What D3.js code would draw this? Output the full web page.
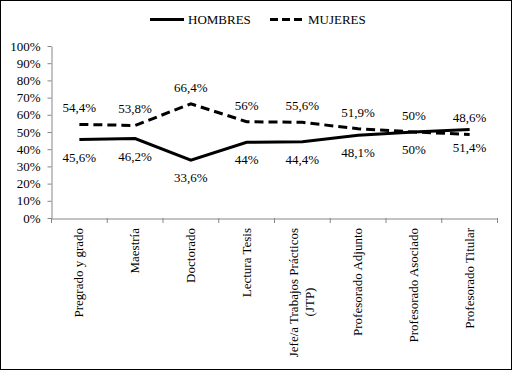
<!DOCTYPE html>
<html><head><meta charset="utf-8">
<script src="https://cdn.jsdelivr.net/npm/d3@7"></script>
<style>body{margin:0;background:#fff}svg{display:block}</style>
</head><body>
<script>
const categories = [["Pregrado y grado"],["Maestría"],["Doctorado"],["Lectura Tesis"],["Jefe/a Trabajos Prácticos","(JTP)"],["Profesorado Adjunto"],["Profesorado Asociado"],["Profesorado Titular"]];
const hombres = [45.6,46.2,33.6,44,44.4,48.1,50,51.4];
const mujeres = [54.4,53.8,66.4,56,55.6,51.9,50,48.6];
const hombresLabels = ["45,6%","46,2%","33,6%","44%","44,4%","48,1%","50%","51,4%"];
const mujeresLabels = ["54,4%","53,8%","66,4%","56%","55,6%","51,9%","50%","48,6%"];
const yTicks = [0,10,20,30,40,50,60,70,80,90,100];

const FONT="'Liberation Serif'";
const W=512,H=370;
const svg=d3.select("body").append("svg").attr("width",W).attr("height",H);
svg.append("rect").attr("x",0.5).attr("y",0.5).attr("width",W-1).attr("height",H-1).attr("fill","#fff").attr("stroke","#000");

const mLeft=51.5,mRight=497.5,mTop=46,mBottom=218;
const x=d3.scaleBand().domain(d3.range(categories.length)).range([mLeft,mRight]);
const y=d3.scaleLinear().domain([0,100]).range([mBottom,mTop]);
const axisColor="#868686";

const ya=svg.append("g").attr("transform",`translate(${mLeft},0)`)
  .call(d3.axisLeft(y).tickValues(yTicks).tickFormat(d=>d+"%").tickSize(4).tickSizeOuter(0).tickPadding(7));
ya.select(".domain").attr("stroke",axisColor);
ya.selectAll(".tick line").attr("stroke",axisColor);
ya.selectAll("text").attr("font-size",null).attr("fill","#000").style("font-family",FONT).style("font-size","13px");

const xa=svg.append("g").attr("transform",`translate(0,${mBottom+0.5})`)
  .call(d3.axisBottom(x).tickSize(0).tickFormat(""));
xa.select(".domain").attr("stroke",axisColor);
xa.selectAll(".tick").remove();
const bounds=d3.range(categories.length+1).map(i=>mLeft+i*x.step());
svg.append("g").selectAll("line").data(bounds).join("line")
  .attr("x1",d=>d).attr("x2",d=>d).attr("y1",mBottom).attr("y2",mBottom+5)
  .attr("stroke",axisColor);

categories.forEach((lines,i)=>{
  const c=x(i)+x.bandwidth()/2;
  const n=lines.length;
  lines.forEach((t,j)=>{
    const off=(j-(n-1)/2)*16;
    svg.append("text").attr("transform",`translate(${c+off+4},${mBottom+10}) rotate(-90)`)
      .attr("text-anchor",j===0?"end":"middle")
      .attr("x",j===0?0:-74)
      .style("font-size","13px").style("font-family",FONT).text(t);
  });
});

const cx=i=>x(i)+x.bandwidth()/2;
const line=d3.line().x((d,i)=>cx(i)).y(d=>y(d));
svg.append("path").datum(mujeres).attr("d",line).attr("fill","none").attr("stroke","#000").attr("stroke-width",3).attr("stroke-dasharray","9,5");
svg.append("path").datum(hombres).attr("d",line).attr("fill","none").attr("stroke","#000").attr("stroke-width",3);

svg.append("g").selectAll("text").data(mujeres).join("text")
  .attr("x",(d,i)=>cx(i)).attr("y",d=>y(d)-12).attr("text-anchor","middle")
  .style("font-size","13px").style("font-family",FONT).text((d,i)=>mujeresLabels[i]);
svg.append("g").selectAll("text").data(hombres).join("text")
  .attr("x",(d,i)=>cx(i)).attr("y",d=>y(d)+22).attr("text-anchor","middle")
  .style("font-size","13px").style("font-family",FONT).text((d,i)=>hombresLabels[i]);

const lg=svg.append("g");
lg.append("line").attr("x1",150).attr("x2",184).attr("y1",19.5).attr("y2",19.5).attr("stroke","#000").attr("stroke-width",3);
lg.append("text").attr("x",188).attr("y",24).style("font-size","13px").style("font-family",FONT).text("HOMBRES");
lg.append("line").attr("x1",270).attr("x2",302).attr("y1",19.5).attr("y2",19.5).attr("stroke","#000").attr("stroke-width",3).attr("stroke-dasharray","8,4");
lg.append("text").attr("x",308).attr("y",24).style("font-size","13px").style("font-family",FONT).text("MUJERES");
</script>
</body></html>
